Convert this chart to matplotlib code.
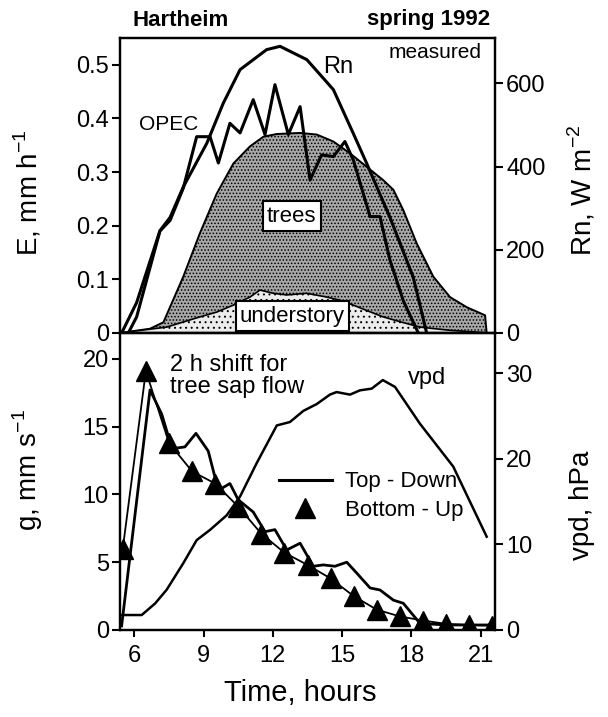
import numpy as np
import matplotlib
matplotlib.use('Agg')
import matplotlib.pyplot as plt
from matplotlib.lines import Line2D

plt.rcParams['font.family'] = ['Liberation Sans', 'DejaVu Sans']
plt.rcParams['mathtext.fontset'] = 'custom'
plt.rcParams['mathtext.rm'] = 'Liberation Sans'
plt.rcParams['hatch.linewidth'] = 0.7

# upper panel: net radiation, eddy covariance and sap flow / understory
rn_hours = [5.45, 6.10, 7.11, 7.55, 8.12, 9.14, 9.85, 10.58, 11.73, 12.31, 13.47, 14.62, 15.48, 16.06, 17.07, 18.08, 18.66]
rn = [0, 73, 246, 278, 351, 456, 552, 633, 681, 689, 657, 585, 480, 408, 278, 134, 0]

opec_hours = [5.74, 6.10, 7.11, 7.55, 8.12, 8.70, 9.28, 9.64, 10.14, 10.58, 11.15, 11.66, 12.09, 12.67,
              13.18, 13.61, 14.11, 14.62, 15.12, 15.48, 16.21, 16.64, 17.07, 17.65, 18.30]
opec = [0, 0.03, 0.19, 0.21, 0.27, 0.366, 0.366, 0.317, 0.391, 0.373, 0.435, 0.370, 0.463, 0.370,
        0.422, 0.285, 0.332, 0.329, 0.357, 0.323, 0.217, 0.217, 0.136, 0.06, 0]

tree_hours = [5.38, 6.68, 7.26, 8.12, 8.84, 9.57, 10.29, 11.01, 11.59, 12.17, 13.18, 13.90, 14.62, 15.34,
              16.06, 16.78, 17.22, 17.65, 18.23, 18.95, 19.67, 20.40, 21.19, 21.26]
trees = [0, 0.008, 0.020, 0.105, 0.186, 0.260, 0.316, 0.348, 0.366, 0.371, 0.373, 0.370, 0.357, 0.335,
         0.310, 0.285, 0.267, 0.229, 0.167, 0.105, 0.067, 0.048, 0.033, 0.0]

under_hours = [5.38, 7.40, 8.84, 9.57, 10.29, 11.01, 11.44, 12.02, 12.60, 13.47, 14.33, 14.91, 15.48,
               16.06, 16.78, 17.51, 18.37, 19.67, 21.40]
understory = [0, 0.011, 0.030, 0.039, 0.052, 0.067, 0.080, 0.074, 0.071, 0.074, 0.067, 0.061, 0.052,
              0.042, 0.030, 0.021, 0.011, 0.005, 0]

# lower panel: canopy conductance and vpd
bu_hours = [5.5, 6.5, 7.5, 8.5, 9.5, 10.5, 11.5, 12.5, 13.5, 14.5, 15.5, 16.5, 17.5, 18.5, 19.5, 20.5, 21.5]
g_bottom_up = [6.0, 19.1, 13.8, 11.7, 10.8, 9.1, 7.1, 5.7, 4.8, 3.8, 2.5, 1.5, 1.0, 0.7, 0.45, 0.37, 0.32]

td_hours = [5.45, 6.68, 7.19, 7.47, 7.76, 8.19, 8.67, 9.20, 9.64, 10.14, 10.50, 11.15, 11.66, 12.09, 12.60,
            13.18, 13.75, 14.18, 14.69, 15.20, 15.63, 16.21, 16.64, 17.22, 17.65, 18.37, 19.53, 21.55]
g_top_down = [0.3, 17.7, 15.9, 14.3, 13.4, 13.5, 14.5, 13.2, 10.3, 10.8, 9.6, 8.7, 7.25, 7.4, 5.9,
              6.4, 4.7, 4.8, 4.7, 5.0, 4.2, 3.1, 2.95, 2.2, 1.97, 0.49, 0.37, 0.37]

vpd_hours = [5.38, 6.32, 6.90, 7.40, 8.12, 8.70, 9.28, 10.0, 10.58, 11.30, 12.17, 12.74, 13.32, 13.90,
             14.47, 14.76, 15.34, 15.77, 16.28, 16.76, 17.29, 18.37, 19.81, 21.26]
vpd = [1.75, 1.75, 3.1, 4.7, 7.8, 10.5, 11.7, 13.4, 15.6, 19.5, 23.9, 24.3, 25.6, 26.4,
       27.5, 27.8, 27.5, 28.0, 28.2, 29.2, 28.4, 24.1, 19.1, 10.9]

hour_ticks = [6, 9, 12, 15, 18, 21]

fig = plt.figure(figsize=(6.08, 7.17), dpi=100)
L, R = 120 / 608, 495 / 608
ax1 = fig.add_axes([L, 1 - 333 / 717, R - L, 295 / 717])
ax2 = fig.add_axes([L, 1 - 630 / 717, R - L, 297 / 717], sharex=ax1)
ax1r = ax1.twinx()
ax2r = ax2.twinx()

for a in (ax1, ax2, ax1r, ax2r):
    for s in a.spines.values():
        s.set_linewidth(1.6)
    a.tick_params(direction='out', length=6, width=1.5, labelsize=17, pad=2)

ax1.fill_between(tree_hours, trees, 0, facecolor='#a8a8a8', edgecolor='black', hatch='.....', lw=1.4, zorder=1)
ax1.fill_between(under_hours, understory, 0, facecolor='#ececec', edgecolor='black', hatch='...', lw=1.2, zorder=2)
ax1.plot(opec_hours, opec, color='black', lw=2.2, zorder=3)
ax1r.plot(rn_hours, rn, color='black', lw=2.2)

ax1.set_xlim(5.38, 21.62)
ax1.set_ylim(0, 0.55)
ax1.set_yticks([0, 0.1, 0.2, 0.3, 0.4, 0.5])
ax1.set_yticklabels(['0', '0.1', '0.2', '0.3', '0.4', '0.5'])
ax1r.set_ylim(0, 709)
ax1r.set_yticks([0, 200, 400, 600])
ax1.tick_params(axis='x', bottom=False, labelbottom=False)

box = dict(boxstyle='square,pad=0.2', fc='white', ec='black', lw=1.5)
ax1.text(12.82, 0.218, 'trees', ha='center', va='center', fontsize=16, bbox=box, zorder=5)
ax1.text(12.85, 0.031, 'understory', ha='center', va='center', fontsize=16, bbox=box, zorder=5)
ax1.text(7.5, 0.388, 'OPEC', ha='center', va='center', fontsize=15)
ax1.text(14.82, 0.495, 'Rn', ha='center', va='center', fontsize=17)
ax1.text(19.04, 0.523, 'measured', ha='center', va='center', fontsize=15)

ax2.plot(bu_hours, g_bottom_up, color='black', lw=1.3, marker='^', ms=14, zorder=3)
ax2.plot(td_hours, g_top_down, color='black', lw=2.0, zorder=2)
ax2r.plot(vpd_hours, vpd, color='black', lw=1.8)

ax2.set_ylim(0, 21.9)
ax2.set_yticks([0, 5, 10, 15, 20])
ax2r.set_ylim(0, 34.7)
ax2r.set_yticks([0, 10, 20, 30])
ax2.set_xticks(hour_ticks)
ax2.tick_params(axis='x', length=5, pad=6)

ax2.text(7.55, 18.7, '2 h shift for\ntree sap flow', ha='left', va='center', fontsize=17, linespacing=1.0)
ax2.text(18.67, 18.6, 'vpd', ha='center', va='center', fontsize=17)

handles = [Line2D([], [], color='black', lw=2.2),
           Line2D([], [], color='black', ls='none', marker='^', ms=14)]
ax2.legend(handles, ['Top - Down', 'Bottom - Up'], loc='center left', bbox_to_anchor=(0.37, 0.45),
           frameon=False, fontsize=16, handlelength=2.4, handletextpad=0.6, labelspacing=0.35)

fig.text(133 / 608, 1 - 20 / 717, 'Hartheim', ha='left', va='center', fontsize=16, fontweight='bold')
fig.text(490 / 608, 1 - 20 / 717, 'spring 1992', ha='right', va='center', fontsize=16, fontweight='bold')
fig.text(28 / 608, 1 - 193 / 717, r'E, mm h$^{\mathregular{-1}}$', rotation=90, ha='center', va='center', fontsize=20)
fig.text(28 / 608, 1 - 470 / 717, r'g, mm s$^{\mathregular{-1}}$', rotation=90, ha='center', va='center', fontsize=20)
fig.text(582 / 608, 1 - 190 / 717, r'Rn, W m$^{\mathregular{-2}}$', rotation=90, ha='center', va='center', fontsize=20)
fig.text(582 / 608, 1 - 505 / 717, 'vpd, hPa', rotation=90, ha='center', va='center', fontsize=20)
fig.text(300 / 608, 1 - 693 / 717, 'Time, hours', ha='center', va='center', fontsize=21)

fig.savefig('out.png', dpi=100)
